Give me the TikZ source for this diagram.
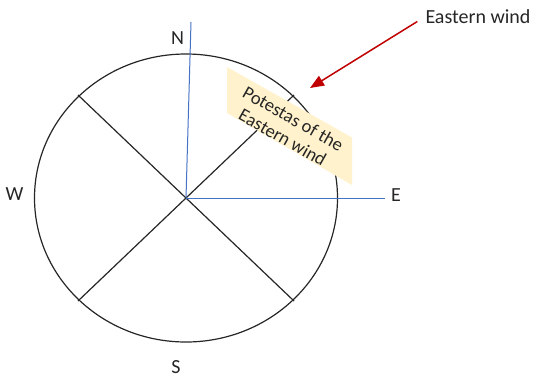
\documentclass[tikz,border=0pt]{standalone}
\usepackage{fontspec}
\setmainfont{Carlito}
\usepackage{xcolor}
\usepackage{tikz}
\usetikzlibrary{arrows.meta,positioning}

\definecolor{axisblue}{HTML}{4472C4}
\definecolor{windred}{HTML}{C00000}
\definecolor{notefill}{HTML}{FFF2CC}
\definecolor{inkgrey}{HTML}{262626}

\begin{document}
\begin{tikzpicture}[
x=1pt, y=-1pt,
rim/.style={draw=black!85, line width=1.2pt},
axis/.style={draw=axisblue, line width=1pt},
compass/.style={inner sep=0pt, text=inkgrey, font=\fontsize{20}{24}\selectfont},
notetext/.style={inner sep=0pt, text=inkgrey, align=center, rotate=-29.5, font=\fontsize{18.5}{21.5}\selectfont},
windarrow/.style={-{Triangle[length=14pt, width=11pt]}, draw=windred, line width=1.5pt}
]
\useasboundingbox (0,0) rectangle (534,378);

% circle and cross
\coordinate (c) at (186,198);
\coordinate (nw) at (78,95);
\coordinate (se) at (294,301);
\coordinate (sw) at (78,301);
\coordinate (ne) at (294,95);
\draw[rim] (c) ellipse [x radius=151.5, y radius=144];
\draw[rim] (nw) -- (se);
\draw[rim] (sw) -- (ne);

% note on the NE quarter
\coordinate (n1) at (227,67);
\coordinate (n2) at (352,137.5);
\coordinate (n3) at (352,185);
\coordinate (n4) at (227,113);
\fill[notefill] (n1) -- (n2) -- (n3) -- (n4) -- cycle;
\node[notetext] (note) at (288,128) {Potestas of the\\Eastern wind};

% axes
\coordinate (ntop) at (191,22);
\coordinate (eend) at (385,198);
\draw[axis] (c) -- (ntop);
\draw[axis] (c) -- (eend);

% compass letters
\node[compass] (lN) at (177.5,38.5) {N};
\node[compass] (lE) at (396,195) {E};
\node[compass] (lW) at (14.5,194) {W};
\node[compass] (lS) at (176,367) {S};

% wind label and arrow
\node[compass, inner sep=4pt] (wind) at (478,16.5) {Eastern wind};
\coordinate (tip) at (310,88);
\draw[windarrow] ([xshift=-4pt,yshift=-5pt]wind.west) -- (tip);
\end{tikzpicture}
\end{document}
